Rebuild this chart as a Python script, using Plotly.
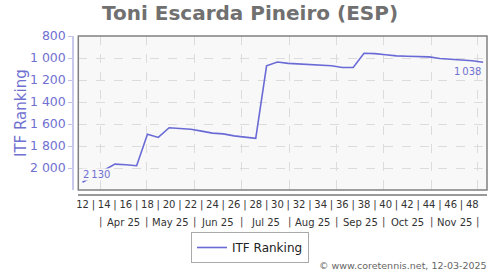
import datetime as dt
import pandas as pd
import plotly.graph_objects as go

# ---- data ----
weeks = [12, 15, 16, 17, 18, 19, 20, 21, 22, 23, 24, 25, 26, 27, 28, 29, 30, 31, 32,
         33, 34, 35, 36, 37, 38, 39, 40, 41, 42, 43, 44, 45, 46, 47, 48, 49]
ranking = [2130, 1965, 1971, 1979, 1692, 1722, 1634, 1639, 1648, 1665, 1683, 1690,
           1708, 1719, 1730, 1071, 1036, 1049, 1055, 1060, 1070, 1071, 1086, 1086,
           957, 960, 970, 981, 984, 987, 990, 1004, 1011, 1017, 1025, 1038]
year = 2025
week_ticks = list(range(12, 49))
months = pd.date_range("2025-04-01", "2025-12-01", freq="MS")
series_name = "ITF Ranking"
title = "Toni Escarda Pineiro (ESP)"
credit = "\u00a9 www.coretennis.net, 12-03-2025"


def week_date(w):
    return dt.datetime.combine(dt.date.fromisocalendar(year, w, 4), dt.time(12))


x_dates = [week_date(w) for w in weeks]

LINE = "#6a6ad6"
AXTXT = "#7070d0"
FONT = "DejaVu Sans"

fig = go.Figure()
fig.add_trace(go.Scatter(x=x_dates, y=ranking, mode="lines", name=series_name,
                         line=dict(color=LINE, width=1.6)))

W, H = 500, 270
ml, mr, mt, mb = 73, 13, 36, 75
pw, ph = W - ml - mr, H - mt - mb


def px_x(p):
    return (p - ml) / pw


def px_y(p):
    return (H - mb - p) / ph


tickvals = [week_date(w) for w in week_ticks]
ticktext = [str(w) if w % 2 == 0 else "|" for w in week_ticks]

annotations = []
# month labels and separators
for i, m in enumerate(months):
    annotations.append(dict(x=m, xref="x", y=px_y(222), yref="paper", text="|",
                            showarrow=False, font=dict(size=10, color="#444", family=FONT),
                            xanchor="center", yanchor="middle"))
    if i < len(months) - 1:
        mid = m + (months[i + 1] - m) / 2
        annotations.append(dict(x=mid, xref="x", y=px_y(222), yref="paper",
                                text=m.strftime("%b %y"), showarrow=False,
                                font=dict(size=10, color="#333", family=FONT),
                                xanchor="center", yanchor="middle"))

fmt = lambda v: f"{v:,}".replace(",", "\u2009")
annotations.append(dict(x=x_dates[0], y=ranking[0], xref="x", yref="y", text=fmt(ranking[0]),
                        showarrow=False, xanchor="left", yanchor="bottom", yshift=1,
                        bgcolor="#f8f8f8", borderpad=0,
                        font=dict(size=10, color=AXTXT, family=FONT)))
annotations.append(dict(x=x_dates[-1], y=ranking[-1], xref="x", yref="y", text=fmt(ranking[-1]),
                        showarrow=False, xanchor="right", yanchor="top", yshift=-2,
                        font=dict(size=10, color=AXTXT, family=FONT)))
annotations.append(dict(x=px_x(21), y=px_y(113), xref="paper", yref="paper", text=series_name,
                        textangle=-90, showarrow=False, xanchor="center", yanchor="middle",
                        font=dict(size=15, color=AXTXT, family=FONT)))
annotations.append(dict(x=px_x(489), y=px_y(265), xref="paper", yref="paper", text=credit,
                        showarrow=False, xanchor="right", yanchor="middle",
                        font=dict(size=9.5, color="#666", family=FONT)))

fig.update_layout(
    width=W, height=H,
    margin=dict(l=ml, r=mr, t=mt, b=mb, autoexpand=False),
    paper_bgcolor="white", plot_bgcolor="#f8f8f8",
    separators=". ",
    font=dict(family=FONT),
    title=dict(text=title, x=0.5, xref="container", xanchor="center",
               y=1 - 12.5 / H, yref="container", yanchor="middle",
               font=dict(size=20, color="#707070", family=FONT, weight="bold")),
    xaxis=dict(type="date", domain=[px_x(78.3), 1], anchor="free", position=0,
               range=[dt.datetime(2025, 3, 17, 19), dt.datetime(2025, 12, 7)],
               tickmode="array", tickvals=tickvals, ticktext=ticktext,
               tickfont=dict(size=10, color="#333", family=FONT), ticks="",
               showgrid=False, showline=True, linecolor="#999", linewidth=1.5,
               minor=dict(tickmode="array", tickvals=list(months), showgrid=True,
                          gridcolor="#dcdcdc", griddash="dash", gridwidth=1, ticks=""),
               zeroline=False),
    yaxis=dict(range=[2200, 800], domain=[px_y(190), 1], anchor="free", position=0,
               tickmode="array", tickvals=list(range(800, 2001, 200)), tickformat=",d",
               tickfont=dict(size=12.5, color=AXTXT, family=FONT),
               ticks="outside", ticklen=4, tickcolor="#c0c0ea",
               showline=True, linecolor="#c8c8ee", linewidth=1.5,
               showgrid=True, gridcolor="#dcdcdc", griddash="dash", gridwidth=1,
               zeroline=False),
    showlegend=True,
    legend=dict(orientation="h", x=px_x(250), xanchor="center", y=px_y(247.5),
                yanchor="middle", bordercolor="#aaa", borderwidth=1, bgcolor="white",
                font=dict(size=12, color="#222", family=FONT), itemwidth=30),
    annotations=annotations,
    shapes=[dict(type="rect", xref="x domain", yref="y domain", x0=0, x1=1, y0=0, y1=1,
                 line=dict(color="#808080", width=1.5), layer="above")],
)

fig.write_html("out.html")
